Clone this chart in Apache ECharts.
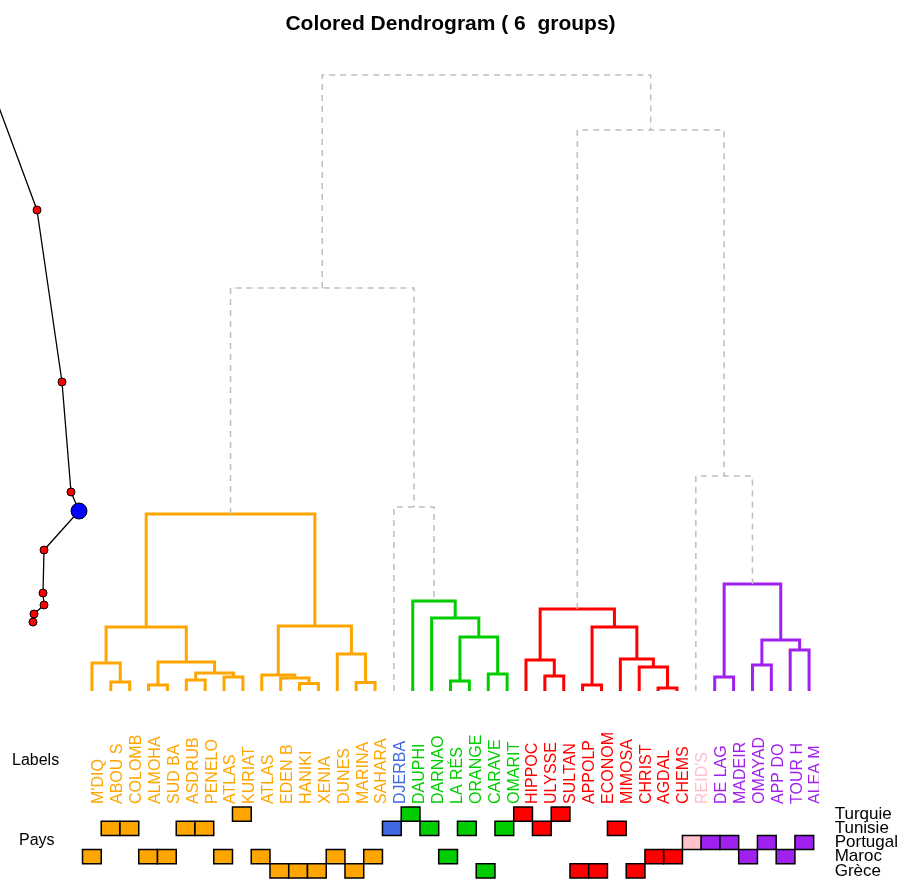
<!DOCTYPE html>
<html>
<head>
<meta charset="utf-8">
<script src="https://cdn.jsdelivr.net/npm/echarts@6/dist/echarts.min.js"></script>
<style>
html,body{margin:0;padding:0;background:#fff;}
#chart{width:901px;height:880px;}
</style>
</head>
<body>
<div id="chart"></div>
<script>
// ---------------- DATA ----------------
const chartTitle = "Colored Dendrogram ( 6  groups)";
const nGroups = 6;

const leafLabels = ["M'DIQ","ABOU S","COLOMB","ALMOHA","SUD BA","ASDRUB","PENELO","ATLAS","KURIAT",
  "ATLAS","EDEN B","HANIKI","XENIA","DUNES","MARINA","SAHARA","DJERBA","DAUPHI","DARNAO","LA RÉS",
  "ORANGE","CARAVE","OMARIT","HIPPOC","ULYSSE","SULTAN","APPOLP","ECONOM","MIMOSA","CHRIST","AGDAL",
  "CHEMS","REID'S","DE LAG","MADEIR","OMAYAD","APP DO","TOUR H","ALEA M"];

const paysLevels = ["Turquie","Tunisie","Portugal","Maroc","Grèce"];
const leafPays = ["Maroc","Tunisie","Tunisie","Maroc","Maroc","Tunisie","Tunisie","Maroc","Turquie",
  "Maroc","Grèce","Grèce","Grèce","Maroc","Grèce","Maroc","Tunisie","Turquie","Tunisie","Maroc",
  "Tunisie","Grèce","Tunisie","Turquie","Tunisie","Turquie","Grèce","Grèce","Tunisie","Grèce","Maroc",
  "Maroc","Portugal","Portugal","Portugal","Maroc","Portugal","Maroc","Portugal"];

// hclust-style merge matrix: negative = leaf (1-based, display order), positive = earlier step
const mergeLeft  = [-31,-4,-27,-12,-15,-2,-20,-6,-11,-8,-34,-25,-10,-22, 8,-30,-36,-1, 2,-24,-29,-14,-38,17, 7,18, 3,13,-19,20,-18,11,26,-17,-33,33,30,36];
const mergeRight = [-32,-5,-28,-13,-16,-3,-21,-7,  4,-9,-35,-26,  9,-23,10,  1,-37, 6,15, 12, 16,  5,-39,23,14,19,21,22, 25,27, 29,24,28, 31, 32,34,35,37];
const mergeHeight = [3,6,6,7.5,8.5,9,10,11,13,14,14,15,16,17,18,24,26,28,29,31,32,37,41,51,54,64,64,65,73,82,90,107,177,184,215,403,561,616];

const groupColors = ["#FFA500","#4169E1","#00CD00","#FF0000","#FFC0CB","#A020F0"];

// inset (inertia) line
const insetX = [-20, 37, 62, 71, 79, 44, 43, 44, 34, 33];
const insetY = [-24, 130, 302, 412, 431, 470, 513, 525, 534, 542];
const insetChosen = 4;

// ---------------- BUILD ----------------
const nLeaf = leafLabels.length;
const nMerge = mergeHeight.length;
const nodeX = [], nodeH = [];
function posOf(ref){ return ref < 0 ? -ref - 1 : nodeX[ref - 1]; }
function hOf(ref){ return ref < 0 ? 0 : nodeH[ref - 1]; }
for (let s = 0; s < nMerge; s++) {
  nodeX[s] = (posOf(mergeLeft[s]) + posOf(mergeRight[s])) / 2;
  nodeH[s] = mergeHeight[s];
}
const greyFrom = nMerge - (nGroups - 1);
function leavesOf(ref, out){
  if (ref < 0) { out.push(-ref - 1); return out; }
  leavesOf(mergeLeft[ref-1], out); leavesOf(mergeRight[ref-1], out); return out;
}
const clusterRoots = [];
for (let s = greyFrom; s < nMerge; s++) {
  [mergeLeft[s], mergeRight[s]].forEach(r => {
    if (r < 0 || (r - 1) < greyFrom) clusterRoots.push(r);
  });
}
clusterRoots.sort((a, b) => Math.min(...leavesOf(a, [])) - Math.min(...leavesOf(b, [])));
const leafGroup = new Array(nLeaf).fill(0);
const nodeGroup = new Array(nMerge).fill(-1);
clusterRoots.forEach((r, g) => {
  leavesOf(r, []).forEach(l => leafGroup[l] = g);
  (function mark(ref){ if (ref > 0) { nodeGroup[ref-1] = g; mark(mergeLeft[ref-1]); mark(mergeRight[ref-1]); } })(r);
});

const segData = [];
for (let s = 0; s < nMerge; s++) {
  const a = mergeLeft[s], b = mergeRight[s];
  segData.push([posOf(a), hOf(a), posOf(b), hOf(b), nodeH[s], s < greyFrom ? nodeGroup[s] : -1]);
}
const labelData = leafLabels.map((t, i) => [i, 0, leafGroup[i]]);
const boxData = leafPays.map((p, i) => [i, paysLevels.indexOf(p), leafGroup[i]]);
const insetData = insetX.map((x, i) => ({
  value: [x, insetY[i]],
  symbolSize: i === insetChosen ? 16 : 8,
  itemStyle: { color: i === insetChosen ? "#0000FF" : "#FF0000", borderColor: "#000", borderWidth: 1 }
}));

const FONT = '"Liberation Sans", Arial, sans-serif';
const gridLeft = 82.5, gridWidth = 736;
const xAx = (gi) => ({ type: 'value', gridIndex: gi, min: -0.5, max: nLeaf - 0.5, show: false });

const chart = echarts.init(document.getElementById('chart'), null, { renderer: 'canvas' });
chart.setOption({
  animation: false,
  backgroundColor: '#fff',
  title: { text: chartTitle, left: 'center', top: 9,
    textStyle: { fontFamily: FONT, fontSize: 21, fontWeight: 'bold', color: '#000' } },
  grid: [
    { left: gridLeft, width: gridWidth, top: 75, height: 616 },
    { left: gridLeft, width: gridWidth, top: 730, height: 76 },
    { left: gridLeft, width: gridWidth, top: 807, height: 71 },
    { left: 0, width: 100, top: 80, height: 560 }
  ],
  xAxis: [ xAx(0), xAx(1), xAx(2),
    { type: 'value', gridIndex: 3, min: 0, max: 100, show: false } ],
  yAxis: [
    { type: 'value', gridIndex: 0, min: 0, max: 616, show: false },
    { type: 'value', gridIndex: 1, min: 0, max: 1, show: false },
    { type: 'category', gridIndex: 2, data: paysLevels, inverse: true, position: 'right',
      axisLine: { show: false }, axisTick: { show: false }, splitLine: { show: false },
      axisLabel: { interval: 0, hideOverlap: false, fontFamily: FONT, fontSize: 17, color: '#000', margin: 21, align: 'left' } },
    { type: 'value', gridIndex: 3, min: 0, max: 560, inverse: true, show: false }
  ],
  graphic: [
    { type: 'text', left: 12, top: 753, style: { text: 'Labels', fontFamily: FONT, fontSize: 16, fill: '#000' } },
    { type: 'text', left: 19, top: 833, style: { text: 'Pays', fontFamily: FONT, fontSize: 16, fill: '#000' } }
  ],
  series: [
    {
      type: 'custom', xAxisIndex: 0, yAxisIndex: 0, clip: false,
      encode: { x: [0, 2], y: [1, 3, 4] },
      data: segData,
      renderItem: function (params, api) {
        const x1 = api.value(0), h1 = api.value(1), x2 = api.value(2), h2 = api.value(3), h = api.value(4), g = api.value(5);
        const pts = [api.coord([x1, h1]), api.coord([x1, h]), api.coord([x2, h]), api.coord([x2, h2])];
        const grey = g < 0;
        return { type: 'polyline', shape: { points: pts },
          style: { stroke: grey ? '#BEBEBE' : groupColors[g], lineWidth: grey ? 1.5 : 3,
            lineDash: grey ? [6, 5] : null, fill: null, lineJoin: 'miter', lineCap: 'butt' } };
      }
    },
    {
      type: 'custom', xAxisIndex: 1, yAxisIndex: 1, clip: true,
      encode: { x: 0, y: 1 },
      data: labelData,
      renderItem: function (params, api) {
        const p = api.coord([api.value(0), api.value(1)]);
        return { type: 'text', x: p[0] + 7, y: p[1] - 2, rotation: Math.PI / 2,
          style: { text: leafLabels[api.value(0)], fill: groupColors[api.value(2)],
            font: '16px ' + FONT, align: 'left', verticalAlign: 'middle' } };
      }
    },
    {
      type: 'custom', xAxisIndex: 2, yAxisIndex: 2, clip: false,
      encode: { x: 0, y: 1 },
      data: boxData,
      renderItem: function (params, api) {
        const c = api.coord([api.value(0), api.value(1)]);
        const sz = api.size([1, 1]);
        return { type: 'rect', shape: { x: c[0] - sz[0] / 2, y: c[1] - sz[1] / 2, width: sz[0], height: sz[1] },
          style: { fill: groupColors[api.value(2)], stroke: '#000', lineWidth: 1.5 } };
      }
    },
    {
      type: 'line', xAxisIndex: 3, yAxisIndex: 3, clip: true,
      data: insetData, symbol: 'circle',
      lineStyle: { color: '#000', width: 1.3 }
    }
  ]
});
</script>
</body>
</html>
